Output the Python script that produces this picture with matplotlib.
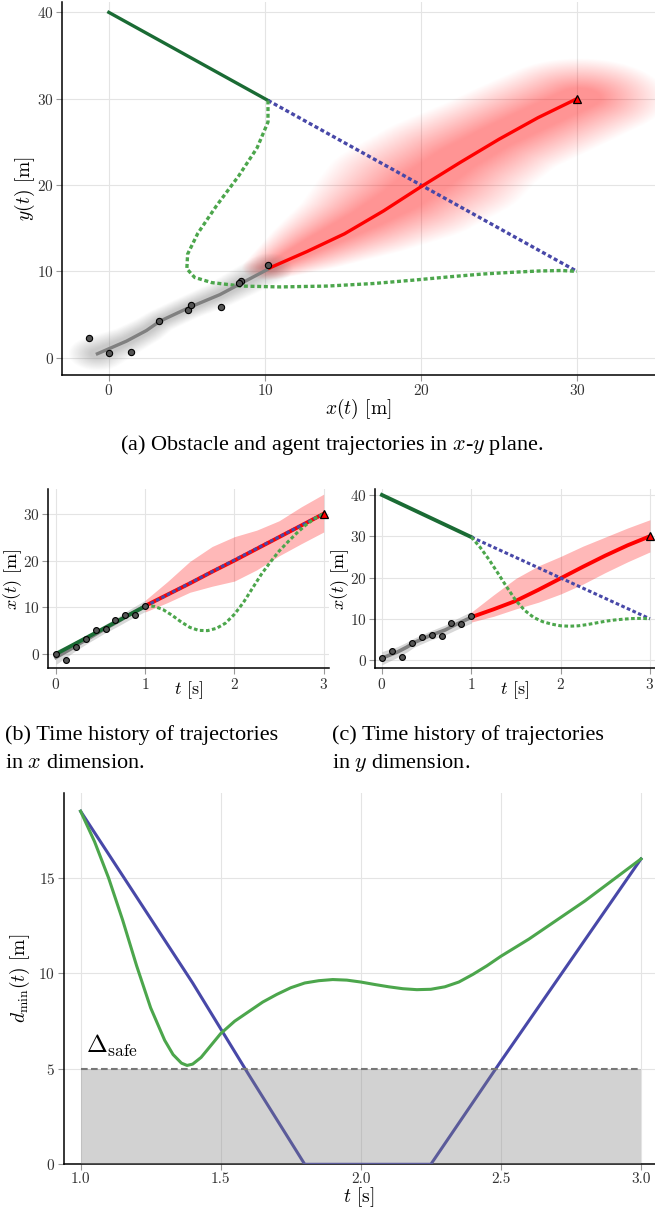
import numpy as np
import matplotlib
matplotlib.use('Agg')
import matplotlib.pyplot as plt

plt.rcParams['font.family'] = 'serif'
plt.rcParams['font.serif'] = ['cmr10']
plt.rcParams['mathtext.fontset'] = 'cm'
plt.rcParams['axes.formatter.use_mathtext'] = True
plt.rcParams['axes.unicode_minus'] = False

# observed agent positions (t = 0..1 s)
obs_t = [0.0, 0.111, 0.222, 0.333, 0.444, 0.556, 0.667, 0.778, 0.889, 1.0]
obs_x = [0.0, -1.3, 1.4, 3.2, 5.1, 5.25, 7.2, 8.45, 8.35, 10.2]
obs_y = [0.5, 2.3, 0.7, 4.2, 5.5, 6.05, 5.9, 8.9, 8.65, 10.7]

# smoothed agent estimate
gray_t = [0.0, 0.17, 0.28, 0.36, 0.53, 0.71, 0.82, 1.0]
gray_x = [-0.73, 1.13, 2.41, 3.27, 5.19, 7.12, 8.4, 10.3]
gray_y = [0.46, 1.92, 3.15, 4.23, 5.85, 7.31, 8.54, 10.35]
gray_hx = [1.5, 1.1, 1.0, 0.9, 0.9, 1.0, 1.1, 1.2]
gray_hy = [1.6, 1.3, 1.2, 1.1, 1.1, 1.2, 1.3, 1.4]

# predicted agent trajectory and its band
pred_t = [1.0, 1.25, 1.5, 1.75, 2.0, 2.25, 2.5, 2.75, 3.0]
pred_x = [10.3, 12.7, 15.1, 17.6, 20.0, 22.5, 25.0, 27.5, 30.0]
pred_y = [10.4, 12.3, 14.35, 17.0, 19.8, 22.6, 25.3, 27.8, 30.0]
pred_x_lo = [9.0, 11.0, 13.2, 14.5, 15.6, 18.0, 21.0, 23.6, 26.1]
pred_x_hi = [11.5, 15.5, 19.8, 23.0, 25.1, 26.5, 28.5, 31.5, 34.2]
pred_y_lo = [9.2, 10.6, 12.4, 14.0, 16.0, 18.4, 21.2, 23.8, 26.2]
pred_y_hi = [11.6, 15.8, 19.8, 22.8, 25.1, 27.6, 29.8, 32.0, 34.0]

# obstacle: past, constant velocity plan, avoiding plan
obst_t = [0.0, 1.0]
obst_x = [0.0, 10.2]
obst_y = [40.0, 29.8]
cv_t = [1.0, 3.0]
cv_x = [10.2, 30.0]
cv_y = [29.8, 10.0]
alt_t = [1.0, 1.1, 1.2, 1.3, 1.4, 1.5, 1.6, 1.7, 1.8, 1.9, 2.0,
         2.1, 2.2, 2.3, 2.4, 2.5, 2.6, 2.7, 2.8, 2.9, 3.0]
alt_x = [10.2, 10.2, 9.5, 8.3, 6.9, 5.7, 5.05, 5.0, 5.5, 6.6, 8.5,
         11.0, 14.0, 17.0, 19.6, 22.0, 24.0, 25.9, 27.6, 29.0, 30.0]
alt_y = [29.8, 27.3, 24.3, 21.0, 17.6, 14.4, 12.0, 10.3, 9.3, 8.7, 8.3,
         8.2, 8.3, 8.6, 9.0, 9.4, 9.7, 9.9, 10.05, 10.1, 10.0]

# minimum distance
dcv_t = [1.0, 1.2, 1.4, 1.6, 1.8, 2.25, 2.5, 2.75, 3.0]
dcv = [18.5, 14.0, 9.5, 4.7, 0.0, 0.0, 5.4, 10.7, 16.0]
dalt_t = [1.0, 1.05, 1.1, 1.15, 1.2, 1.25, 1.3, 1.33, 1.36, 1.38, 1.4, 1.43, 1.5,
          1.55, 1.6, 1.65, 1.7, 1.75, 1.8, 1.85, 1.9, 1.95, 2.0, 2.05, 2.1, 2.15,
          2.2, 2.25, 2.3, 2.35, 2.4, 2.45, 2.5, 2.6, 2.7, 2.8, 2.9, 3.0]
dalt = [18.5, 16.9, 15.0, 12.8, 10.4, 8.2, 6.5, 5.75, 5.3, 5.18, 5.25, 5.6, 6.85,
        7.5, 8.0, 8.5, 8.9, 9.25, 9.5, 9.62, 9.68, 9.65, 9.55, 9.42, 9.3, 9.2,
        9.15, 9.17, 9.3, 9.55, 9.95, 10.4, 10.9, 11.8, 12.8, 13.8, 14.9, 16.0]
safe_dist = 5.0

RED = '#ff0000'
BLUE = '#4848a8'
GREEN = '#4ca64c'
DGREEN = '#1a6b34'
GRAY = '#808080'
DOT = (0, (1.2, 0.8))


def style(ax, xlim, ylim, xt, yt):
    ax.set_xlim(*xlim)
    ax.set_ylim(*ylim)
    ax.set_xticks(xt)
    ax.set_yticks(yt)
    for s in ['top', 'right']:
        ax.spines[s].set_visible(False)
    for s in ['left', 'bottom']:
        ax.spines[s].set_linewidth(1.1)
    ax.grid(True, color='#e4e4e4', lw=0.8, zorder=0)
    ax.set_axisbelow(True)
    ax.tick_params(direction='out', length=4, width=0.8, color='#999999',
                   labelcolor='#333333', labelsize=11, pad=2)


def soft_cloud(ax, t, x, y, hx, hy, rgb, a0, xlim, ylim, reach=1.4, core=0.35):
    tf = np.linspace(t[0], t[-1], 160)
    cx, cy = np.interp(tf, t, x), np.interp(tf, t, y)
    sx, sy = np.interp(tf, t, hx), np.interp(tf, t, hy)
    X, Y = np.meshgrid(np.linspace(*xlim, 700), np.linspace(*ylim, 500))
    d = np.full(X.shape, np.inf)
    for x0, y0, a, b in zip(cx, cy, sx, sy):
        d = np.minimum(d, np.hypot((X - x0) / a, (Y - y0) / b))
    alpha = np.clip((reach - d) / (reach - core), 0, 1) * a0
    img = np.zeros(X.shape + (4,))
    img[..., :3] = rgb
    img[..., 3] = alpha
    ax.imshow(img, extent=(*xlim, *ylim), origin='lower', aspect='auto',
              interpolation='bilinear', zorder=1)


fig = plt.figure(figsize=(6.55, 12.13), dpi=100)
H = 1213.0
W = 655.0

# (a) x-y plane
ax = fig.add_axes([62 / W, 1 - 375 / H, 593 / W, 373 / H])
xl, yl = (-3, 35), (-2, 41.2)
xlo, xhi = np.array(pred_x_lo), np.array(pred_x_hi)
ylo, yhi = np.array(pred_y_lo), np.array(pred_y_hi)
soft_cloud(ax, pred_t, (xlo + xhi) / 2, (ylo + yhi) / 2, (xhi - xlo) / 2,
           (yhi - ylo) / 2 * 0.85, (1, 0, 0), 0.42, xl, yl)
soft_cloud(ax, gray_t, gray_x, gray_y, np.array(gray_hx) * 0.9,
           np.array(gray_hy) * 0.9, (0.45, 0.45, 0.45), 0.38, xl, yl)
ax.plot(obst_x, obst_y, color=DGREEN, lw=2.4, zorder=4)
ax.plot(cv_x, cv_y, color=BLUE, lw=2.4, ls=DOT, zorder=4)
ax.plot(alt_x, alt_y, color=GREEN, lw=2.4, ls=DOT, zorder=4)
ax.plot(gray_x, gray_y, color=GRAY, lw=2.4, zorder=4)
ax.plot(pred_x, pred_y, color=RED, lw=2.4, zorder=5)
ax.plot(obs_x, obs_y, 'o', ms=4.5, mfc='#555555', mec='black', mew=0.8, zorder=6)
ax.plot(pred_x[-1], pred_y[-1], '^', ms=6, mfc=RED, mec='black', mew=0.9, zorder=7)
style(ax, xl, yl, [0, 10, 20, 30], [0, 10, 20, 30, 40])
ax.set_xlabel(r'$x(t)$ [m]', fontsize=14)
ax.set_ylabel(r'$y(t)$ [m]', fontsize=14)
ax.xaxis.set_label_coords(0.5, -34 / 373)
ax.xaxis.label.set_va('center')
ax.yaxis.set_label_coords(-37 / 593, 0.5)
ax.yaxis.label.set_va('center')

# (b) x over time
axb = fig.add_axes([48.3 / W, 1 - 668.3 / H, 280.7 / W, 179.3 / H])
axb.fill_between(pred_t, pred_x_lo, pred_x_hi, color=RED, alpha=0.28, lw=0, zorder=1)
axb.fill_between(gray_t, np.array(gray_x) - gray_hx, np.array(gray_x) + gray_hx,
                 color=GRAY, alpha=0.3, lw=0, zorder=1)
axb.plot(gray_t, gray_x, color=GRAY, lw=2.6, zorder=3)
axb.plot(obst_t, obst_x, color=DGREEN, lw=2.8, zorder=4)
axb.plot(pred_t, pred_x, color=RED, lw=2.8, zorder=4)
axb.plot(cv_t, cv_x, color=BLUE, lw=2.2, ls=DOT, zorder=5)
axb.plot(alt_t, alt_x, color=GREEN, lw=2.2, ls=DOT, zorder=5)
axb.plot(obs_t, obs_x, 'o', ms=4.2, mfc='#555555', mec='black', mew=0.8, zorder=6)
axb.plot(pred_t[-1], pred_x[-1], '^', ms=6, mfc=RED, mec='black', mew=0.9, zorder=7)
style(axb, (-0.086, 3.06), (-3.06, 35.3), [0, 1, 2, 3], [0, 10, 20, 30])
axb.set_xlabel(r'$t$ [s]', fontsize=13)
axb.set_ylabel(r'$x(t)$ [m]', fontsize=13)
axb.xaxis.set_label_coords(0.5, -22 / 179.3)
axb.xaxis.label.set_va('center')
axb.yaxis.set_label_coords(-36 / 280.7, 0.5)
axb.yaxis.label.set_va('center')

# (c) y over time
axc = fig.add_axes([375 / W, 1 - 668.3 / H, 280 / W, 179.3 / H])
axc.fill_between(pred_t, pred_y_lo, pred_y_hi, color=RED, alpha=0.28, lw=0, zorder=1)
axc.fill_between(gray_t, np.array(gray_y) - gray_hy, np.array(gray_y) + gray_hy,
                 color=GRAY, alpha=0.3, lw=0, zorder=1)
axc.plot(gray_t, gray_y, color=GRAY, lw=2.6, zorder=3)
axc.plot(obst_t, obst_y, color=DGREEN, lw=2.8, zorder=4)
axc.plot(pred_t, pred_y, color=RED, lw=2.8, zorder=4)
axc.plot(cv_t, cv_y, color=BLUE, lw=2.2, ls=DOT, zorder=5)
axc.plot(alt_t, alt_y, color=GREEN, lw=2.2, ls=DOT, zorder=5)
axc.plot(obs_t, obs_y, 'o', ms=4.2, mfc='#555555', mec='black', mew=0.8, zorder=6)
axc.plot(pred_t[-1], pred_y[-1], '^', ms=6, mfc=RED, mec='black', mew=0.9, zorder=7)
style(axc, (-0.078, 3.057), (-2.0, 41.45), [0, 1, 2, 3], [0, 10, 20, 30, 40])
axc.set_xlabel(r'$t$ [s]', fontsize=13)
axc.set_ylabel(r'$x(t)$ [m]', fontsize=13)
axc.xaxis.set_label_coords(0.5, -22 / 179.3)
axc.xaxis.label.set_va('center')
axc.yaxis.set_label_coords(-35 / 280, 0.5)
axc.yaxis.label.set_va('center')

# (d) minimum distance
axd = fig.add_axes([63.5 / W, 1 - 1164.3 / H, 591.5 / W, 371.6 / H])
axd.plot(dcv_t, dcv, color=BLUE, lw=2.2, zorder=3)
axd.plot(dalt_t, dalt, color=GREEN, lw=2.2, zorder=3)
axd.fill_between([1.0, 3.0], [0, 0], [safe_dist, safe_dist], color='#808080',
                 alpha=0.35, lw=0, zorder=4)
axd.plot([1.0, 3.0], [safe_dist, safe_dist], color='#777777', lw=1.5,
         ls=(0, (3.2, 1.6)), zorder=5)
axd.text(1.02, safe_dist + 0.5, r'$\Delta_{\mathrm{safe}}$', fontsize=18,
         ha='left', va='bottom', zorder=6)
style(axd, (0.939, 3.05), (0, 19.47), [1.0, 1.5, 2.0, 2.5, 3.0], [0, 5, 10, 15])
axd.set_xticklabels(['1.0', '1.5', '2.0', '2.5', '3.0'])
axd.set_xlabel(r'$t$ [s]', fontsize=14)
axd.set_ylabel(r'$d_{\mathrm{min}}(t)$ [m]', fontsize=14)
axd.xaxis.set_label_coords(0.5, -33 / 371.6)
axd.xaxis.label.set_va('center')
axd.yaxis.set_label_coords(-43.5 / 591.5, 0.5)
axd.yaxis.label.set_va('center')

# captions
cap = dict(family='Liberation Serif', fontsize=16, va='center')
fig.text(331.5 / W, 1 - 445 / H,
         r'(a) Obstacle and agent trajectories in $x$-$y$ plane.', ha='center', **cap)
fig.text(5 / W, 1 - 735 / H, '(b) Time history of trajectories', ha='left', **cap)
fig.text(5 / W, 1 - 763 / H, r'in $x$ dimension.', ha='left', **cap)
fig.text(332 / W, 1 - 735 / H, '(c) Time history of trajectories', ha='left', **cap)
fig.text(332 / W, 1 - 763 / H, r'in $y$ dimension.', ha='left', **cap)

fig.savefig('out.png', dpi=100)
